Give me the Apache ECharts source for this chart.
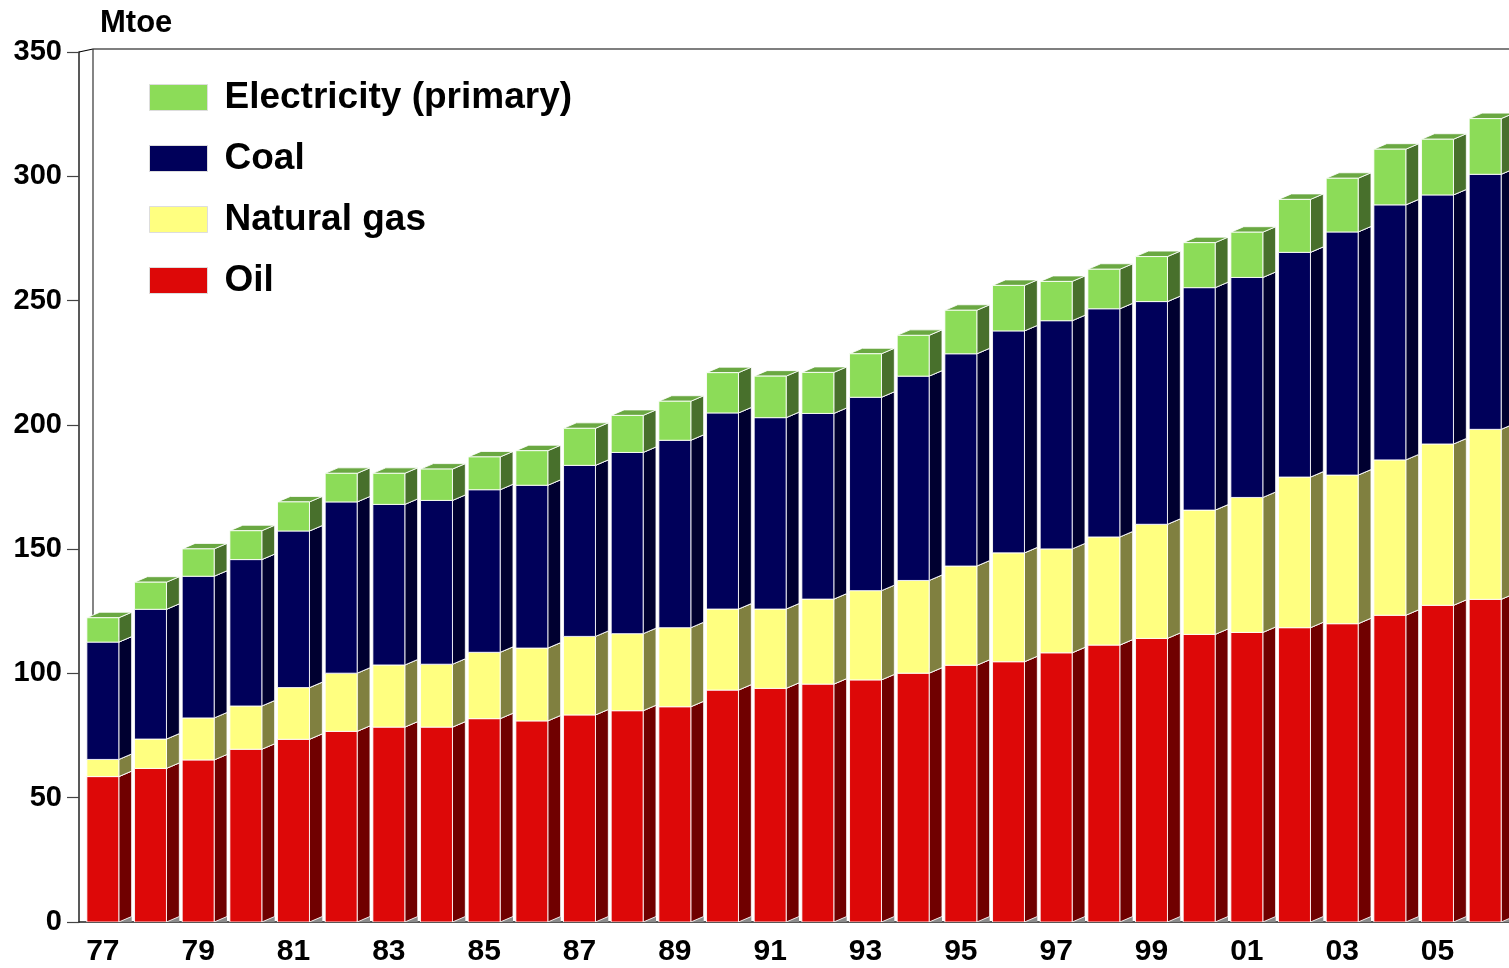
<!DOCTYPE html>
<html>
<head>
<meta charset="utf-8">
<title>Primary energy consumption, Mtoe</title>
<script src="https://cdn.jsdelivr.net/npm/echarts@6.0.0/dist/echarts.min.js"></script>
<style>
html, body { margin: 0; padding: 0; background: #fff; }
#chart { width: 1509px; height: 968px; }
</style>
</head>
<body>
<div id="chart"></div>
<script>
const years = ['77', '78', '79', '80', '81', '82', '83', '84', '85', '86',
  '87', '88', '89', '90', '91', '92', '93', '94', '95', '96',
  '97', '98', '99', '00', '01', '02', '03', '04', '05', '06'];

const oil = [58.5, 61.8, 65.2, 69.5, 73.5, 76.7, 78.4, 78.4, 81.8, 80.9,
  83.3, 85.0, 86.6, 93.3, 94.0, 95.7, 97.4, 100.1, 103.3, 104.7,
  108.3, 111.4, 114.1, 115.7, 116.5, 118.4, 120.0, 123.4, 127.4, 129.8];
const gas = [6.9, 11.8, 16.9, 17.4, 20.8, 23.4, 25.0, 25.3, 26.7, 29.3,
  31.6, 31.0, 31.8, 32.6, 31.9, 34.2, 35.9, 37.3, 39.9, 43.8,
  41.8, 43.5, 45.9, 50.0, 54.3, 60.6, 59.8, 62.5, 64.9, 68.4];
const coal = [47.2, 52.2, 57.0, 58.9, 63.0, 68.9, 64.6, 65.9, 65.4, 65.5,
  68.8, 72.9, 75.4, 78.9, 77.0, 74.7, 77.8, 82.2, 85.4, 89.3,
  91.8, 91.8, 89.6, 89.5, 88.5, 90.4, 97.8, 102.6, 100.2, 102.6];
const electricity = [9.8, 10.9, 11.0, 11.6, 11.7, 11.5, 12.5, 12.6, 13.2, 13.9,
  14.9, 14.9, 15.7, 16.2, 16.7, 16.5, 17.5, 16.4, 17.5, 18.3,
  15.8, 15.9, 18.1, 18.1, 18.2, 21.3, 21.6, 22.4, 22.4, 22.4];

const FONT = '"Liberation Sans", Arial, sans-serif';

// 3D look: front face width and depth as a share of one category band
const FRONT = 0.67;
const DEPTH_X = 0.27;
const DEPTH_Y = 5.5;

const layers = [
  { name: 'Oil', values: oil, front: '#dd0808', side: '#700000', top: '#a00000' },
  { name: 'Natural gas', values: gas, front: '#ffff80', side: '#808040', top: '#c0c060' },
  { name: 'Coal', values: coal, front: '#00005a', side: '#000030', top: '#000048' },
  { name: 'Electricity (primary)', values: electricity, front: '#8cdc58', side: '#48702c', top: '#6aa842' }
];

const makeBox = (layer) => (params, api) => {
  const i = api.value(0);
  const lo = api.coord([i, api.value(1)]);
  const hi = api.coord([i, api.value(2)]);
  const band = api.size([1, 0])[0];
  const w = band * FRONT;
  const dx = band * DEPTH_X;
  const dy = DEPTH_Y;
  const x0 = lo[0] - w / 2;
  const x1 = lo[0] + w / 2;
  const yb = lo[1];
  const yt = hi[1];
  const edge = { stroke: 'rgba(255,255,255,0.85)', lineWidth: 1 };
  const children = [];
  if (api.value(1) === 0) {
    // bit of floor showing under the side face
    children.push({
      type: 'polygon',
      shape: { points: [[x1, yb], [x1 + dx, yb], [x1 + dx, yb - dy]] },
      style: { fill: '#8a8a8a' }
    });
  }
  children.push(
    {
      type: 'polygon',
      shape: { points: [[x1, yb], [x1 + dx, yb - dy], [x1 + dx, yt - dy], [x1, yt]] },
      style: Object.assign({ fill: layer.side }, edge)
    },
    {
      type: 'polygon',
      shape: { points: [[x0, yt], [x1, yt], [x1 + dx, yt - dy], [x0 + dx, yt - dy]] },
      style: Object.assign({ fill: layer.top }, edge)
    },
    {
      type: 'rect',
      shape: { x: x0, y: yt, width: w, height: yb - yt },
      style: Object.assign({ fill: layer.front }, edge)
    }
  );
  return { type: 'group', children };
};

let base = years.map(() => 0);
const series = layers.map(layer => {
  const data = layer.values.map((v, i) => [i, base[i], base[i] + v]);
  base = base.map((b, i) => b + layer.values[i]);
  return {
    type: 'custom',
    name: layer.name,
    data: data,
    clip: true,
    encode: { x: 0, y: [1, 2] },
    itemStyle: { color: layer.front },
    renderItem: makeBox(layer)
  };
});

const legendNames = ['Electricity (primary)', 'Coal', 'Natural gas', 'Oil'];

const myChart = echarts.init(document.getElementById('chart'));

const option = {
  animation: false,
  backgroundColor: '#fff',
  title: {
    text: 'Mtoe',
    left: 100,
    top: 8,
    padding: 0,
    textStyle: { fontFamily: FONT, fontSize: 31, fontWeight: 'bold', color: '#000' }
  },
  legend: {
    orient: 'vertical',
    left: 144,
    top: 74,
    itemWidth: 58,
    itemHeight: 26,
    itemGap: 24,
    icon: 'rect',
    data: legendNames.map(n => {
      const l = layers.find(x => x.name === n);
      return { name: n, itemStyle: { color: l.front, borderColor: '#dddddd', borderWidth: 1 } };
    }),
    textStyle: {
      fontFamily: FONT, fontSize: 37, fontWeight: 'bold', color: '#000',
      lineHeight: 36, padding: [0, 0, 0, 12]
    }
  },
  graphic: [
    {
      type: 'polyline',
      z: 1,
      silent: true,
      shape: { points: [[79, 52], [93, 49], [1509, 49]] },
      style: { stroke: '#000', lineWidth: 1.2, fill: null }
    },
    {
      type: 'line',
      z: 1,
      silent: true,
      shape: { x1: 93, y1: 49, x2: 93, y2: 918 },
      style: { stroke: '#333', lineWidth: 1.2 }
    }
  ],
  grid: { left: 79, right: 0, top: 52, bottom: 46, containLabel: false },
  xAxis: {
    type: 'category',
    data: years,
    boundaryGap: true,
    axisLine: { show: true, lineStyle: { color: '#222', width: 1.5 } },
    axisTick: { show: false },
    axisLabel: {
      interval: 1,
      margin: 15,
      fontFamily: FONT, fontSize: 30, fontWeight: 'bold', color: '#000'
    },
    splitLine: { show: false }
  },
  yAxis: {
    type: 'value',
    min: 0,
    max: 350,
    interval: 50,
    axisLine: { show: true, lineStyle: { color: '#222', width: 1.5 } },
    axisTick: { show: true, length: 12, lineStyle: { color: '#444', width: 1.2 } },
    axisLabel: {
      margin: 17,
      fontFamily: FONT, fontSize: 29, fontWeight: 'bold', color: '#000'
    },
    splitLine: { show: false }
  },
  series: series
};

myChart.setOption(option);
</script>
</body>
</html>
